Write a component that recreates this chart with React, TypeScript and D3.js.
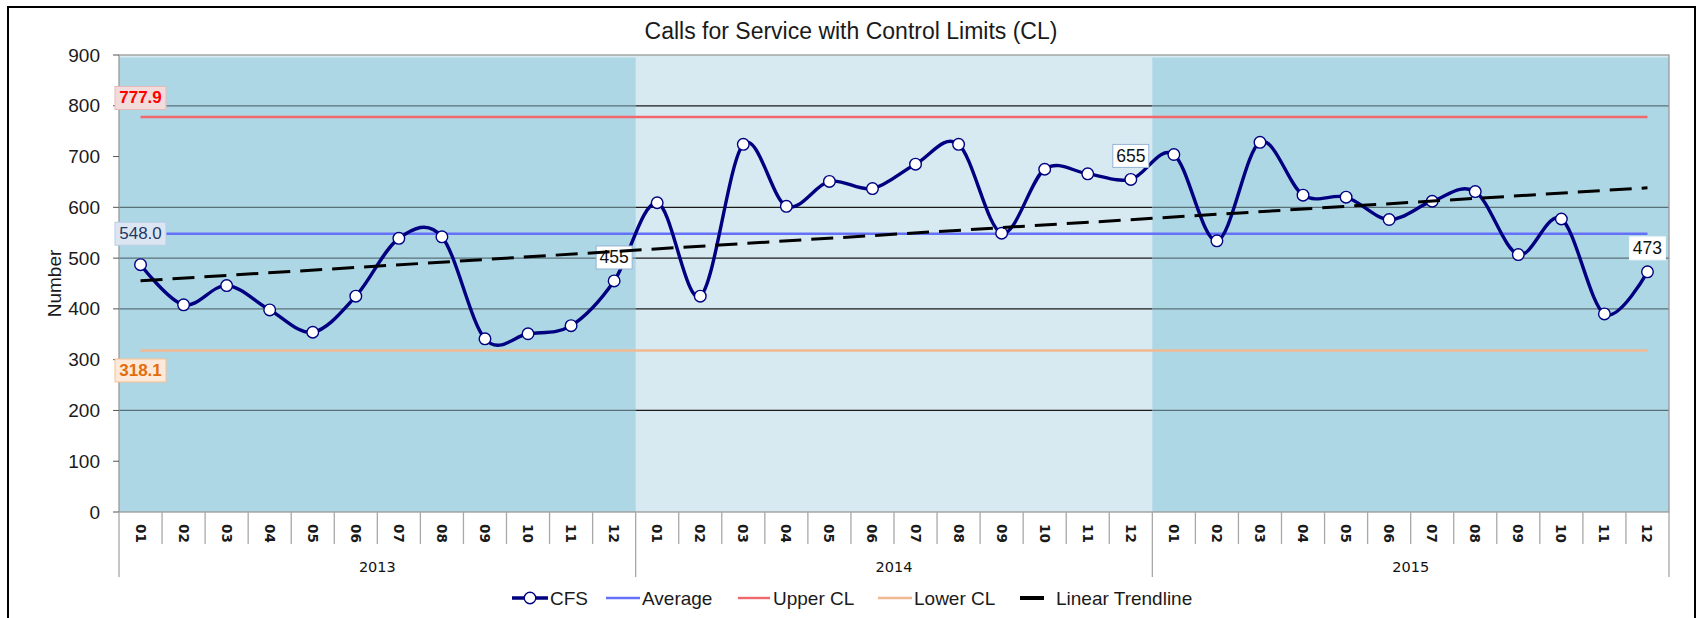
import React from 'react';
import * as d3 from 'd3';

// ---------- data ----------
const years = ['2013', '2014', '2015'];
const months = ['01', '02', '03', '04', '05', '06', '07', '08', '09', '10', '11', '12'];
const cfs2013 = [487, 408, 446, 398, 354, 425, 539, 542, 341, 351, 367, 455];
const cfs2014 = [609, 425, 724, 602, 651, 637, 685, 724, 549, 675, 666, 655];
const cfs2015 = [704, 534, 728, 624, 620, 576, 612, 631, 507, 577, 390, 473];
const averageValue = 548.0;
const upperCLValue = 777.9;
const lowerCLValue = 318.1;
const yTickValues = [0, 100, 200, 300, 400, 500, 600, 700, 800, 900];
const gridValues = [200, 400, 500, 600, 800];
const labeledIndices = [11, 23, 35];
const legendItems = ['CFS', 'Average', 'Upper CL', 'Lower CL', 'Linear Trendline'];

// ---------- styles ----------
const W = 1699;
const H = 618;
const plot = { left: 119, right: 1669, top: 55, bottom: 512 };
const darkBand = '#AED7E5';
const lightBand = '#D7EAF1';
const gridDark = '#587078';
const gridLight = '#1a1a1a';
const avgColor = '#6470F8';
const uclColor = '#F0686E';
const lclColor = '#F0B990';
const navy = '#000080';
const sans = '"Liberation Sans", Arial, sans-serif';
const dejavu = '"DejaVu Sans", Verdana, sans-serif';

export default function App() {
  const values = [...cfs2013, ...cfs2014, ...cfs2015];
  const cats = years.flatMap((y) => months.map((m) => `${y}-${m}`));
  const x = d3.scaleBand<string>().domain(cats).range([plot.left, plot.right]).padding(0);
  const bw = x.bandwidth();
  const cx = (i: number) => (x(cats[i]) as number) + bw / 2;
  const y = d3.scaleLinear().domain([0, 900]).range([plot.bottom, plot.top]);

  // linear regression for trendline
  const n = values.length;
  const mx = d3.mean(values.map((_, i) => i)) as number;
  const my = d3.mean(values) as number;
  let sxy = 0, sxx = 0;
  values.forEach((v, i) => { sxy += (i - mx) * (v - my); sxx += (i - mx) * (i - mx); });
  const slope = sxy / sxx;
  const intercept = my - slope * mx;

  const line = d3.line<number>().x((_, i) => cx(i)).y((v) => y(v)).curve(d3.curveCardinal.tension(0));
  const cfsPath = line(values) as string;

  const x0 = cx(0);
  const x1 = cx(n - 1);

  const yearSpans = years.map((yr, k) => ({
    yr,
    k,
    xs: x(cats[k * 12]) as number,
    xe: (x(cats[k * 12 + 11]) as number) + bw,
  }));

  const clLabels = [
    { v: upperCLValue, dy: -19, fill: '#F2DCDB', stroke: '#E6B9B8', color: '#FF0000', bold: true },
    { v: averageValue, dy: 0, fill: '#DCE6F2', stroke: '#B9CDE5', color: '#1F3864', bold: false },
    { v: lowerCLValue, dy: 20, fill: '#FDE9D9', stroke: '#FAC090', color: '#E46C0A', bold: true },
  ];

  const legendLayout = [
    { lx0: 512, lx1: 548, tx: 550 },
    { lx0: 606, lx1: 640, tx: 642 },
    { lx0: 738, lx1: 770, tx: 773 },
    { lx0: 878, lx1: 912, tx: 914 },
    { lx0: 1020, lx1: 1044, tx: 1056 },
  ];
  const legendColors = [navy, avgColor, uclColor, lclColor, '#000'];
  const legendY = 598;

  return (
    <div style={{ position: 'absolute', left: 0, top: 0 }}>
      <svg width={W} height={H} style={{ display: 'block' }}>
        <rect x={0} y={0} width={W} height={H} fill="#fff" />
        <rect x={8} y={7} width={1687} height={H + 10} fill="none" stroke="#000" strokeWidth={2} />

        {/* title */}
        <text x={851} y={31} textAnchor="middle" dominantBaseline="central" fontFamily={sans} fontSize={23} fill="#1a1a1a">
          Calls for Service with Control Limits (CL)
        </text>

        {/* plot background and bands */}
        <rect x={plot.left} y={plot.top} width={plot.right - plot.left} height={plot.bottom - plot.top} fill={lightBand} />
        {yearSpans.filter((s) => s.k !== 1).map((s) => (
          <rect key={s.yr} x={s.xs} y={y(895)} width={s.xe - s.xs} height={plot.bottom - y(895)} fill={darkBand} />
        ))}

        {/* gridlines */}
        {gridValues.map((g) =>
          yearSpans.map((s) => (
            <line key={`${g}-${s.yr}`} x1={s.xs} x2={s.xe} y1={y(g)} y2={y(g)}
              stroke={s.k === 1 ? gridLight : gridDark} strokeWidth={1.2} />
          ))
        )}

        {/* plot border */}
        <rect x={plot.left} y={plot.top} width={plot.right - plot.left} height={plot.bottom - plot.top} fill="none" stroke="#9a9a9a" strokeWidth={1.3} />

        {/* y axis ticks and labels */}
        {yTickValues.map((t) => (
          <g key={t}>
            <line x1={plot.left - 6} x2={plot.left} y1={y(t)} y2={y(t)} stroke="#555" strokeWidth={1} />
            <text x={100} y={y(t)} textAnchor="end" dominantBaseline="central" fontFamily={sans} fontSize={19} fill="#1a1a1a">{t}</text>
          </g>
        ))}
        <text transform={`translate(54,${(plot.top + plot.bottom) / 2}) rotate(-90)`} textAnchor="middle" dominantBaseline="central" fontFamily={sans} fontSize={19} fill="#1a1a1a">Number</text>

        {/* x axis */}
        {d3.range(n + 1).map((i) => {
          const xx = plot.left + i * bw;
          const isYear = i % 12 === 0;
          return <line key={i} x1={xx} x2={xx} y1={plot.bottom} y2={isYear ? 577 : 544} stroke="#a8a8a8" strokeWidth={1.3} />;
        })}
        {cats.map((c, i) => (
          <text key={c} transform={`translate(${cx(i)},524) rotate(90)`} textAnchor="start" dominantBaseline="central" fontFamily={dejavu} fontSize={13.5} fontWeight="bold" fill="#1a1a1a">
            {months[i % 12]}
          </text>
        ))}
        {yearSpans.map((s) => (
          <text key={s.yr} x={(s.xs + s.xe) / 2} y={567} textAnchor="middle" dominantBaseline="central" fontFamily={dejavu} fontSize={14.5} fill="#111">{s.yr}</text>
        ))}

        {/* control lines */}
        <line x1={x0} x2={x1} y1={y(upperCLValue)} y2={y(upperCLValue)} stroke={uclColor} strokeWidth={2.4} />
        <line x1={x0} x2={x1} y1={y(averageValue)} y2={y(averageValue)} stroke={avgColor} strokeWidth={2.4} />
        <line x1={x0} x2={x1} y1={y(lowerCLValue)} y2={y(lowerCLValue)} stroke={lclColor} strokeWidth={2.4} />

        {/* CFS series */}
        <path d={cfsPath} fill="none" stroke={navy} strokeWidth={3.4} />
        {values.map((v, i) => (
          <circle key={i} cx={cx(i)} cy={y(v)} r={5.8} fill="#fff" stroke={navy} strokeWidth={1.4} />
        ))}

        {/* data labels */}
        {labeledIndices.map((i, k) => (
          <g key={i}>
            <rect x={cx(i) - 18} y={y(values[i]) - 35} width={36} height={23} fill="#fff" stroke={k === 2 ? '#f4f8fa' : '#95B3D7'} strokeWidth={1} />
            <text x={cx(i)} y={y(values[i]) - 23.5} textAnchor="middle" dominantBaseline="central" fontFamily={sans} fontSize={17.5} fill="#111">{values[i]}</text>
          </g>
        ))}

        {/* CL value labels */}
        {clLabels.map((l) => (
          <g key={l.v}>
            <rect x={115} y={y(l.v) + l.dy - 11.5} width={51} height={23} fill={l.fill} stroke={l.stroke} strokeWidth={1} />
            <text x={140.5} y={y(l.v) + l.dy} textAnchor="middle" dominantBaseline="central" fontFamily={sans} fontSize={17} fontWeight={l.bold ? 'bold' : 'normal'} fill={l.color}>
              {l.v.toFixed(1)}
            </text>
          </g>
        ))}

        {/* trendline */}
        <line x1={x0} x2={x1} y1={y(intercept)} y2={y(intercept + slope * (n - 1))} stroke="#000" strokeWidth={3} strokeDasharray="22,10" />

        {/* legend */}
        {legendItems.map((name, k) => {
          const L = legendLayout[k];
          return (
            <g key={name}>
              <line x1={L.lx0} x2={L.lx1} y1={legendY} y2={legendY} stroke={legendColors[k]} strokeWidth={k === 0 ? 3.4 : k === 4 ? 4 : 2.4} />
              {k === 0 && <circle cx={(L.lx0 + L.lx1) / 2} cy={legendY} r={5.8} fill="#fff" stroke={navy} strokeWidth={1.4} />}
              <text x={L.tx} y={legendY} dominantBaseline="central" fontFamily={sans} fontSize={19} fill="#1a1a1a">{name}</text>
            </g>
          );
        })}
      </svg>
    </div>
  );
}
